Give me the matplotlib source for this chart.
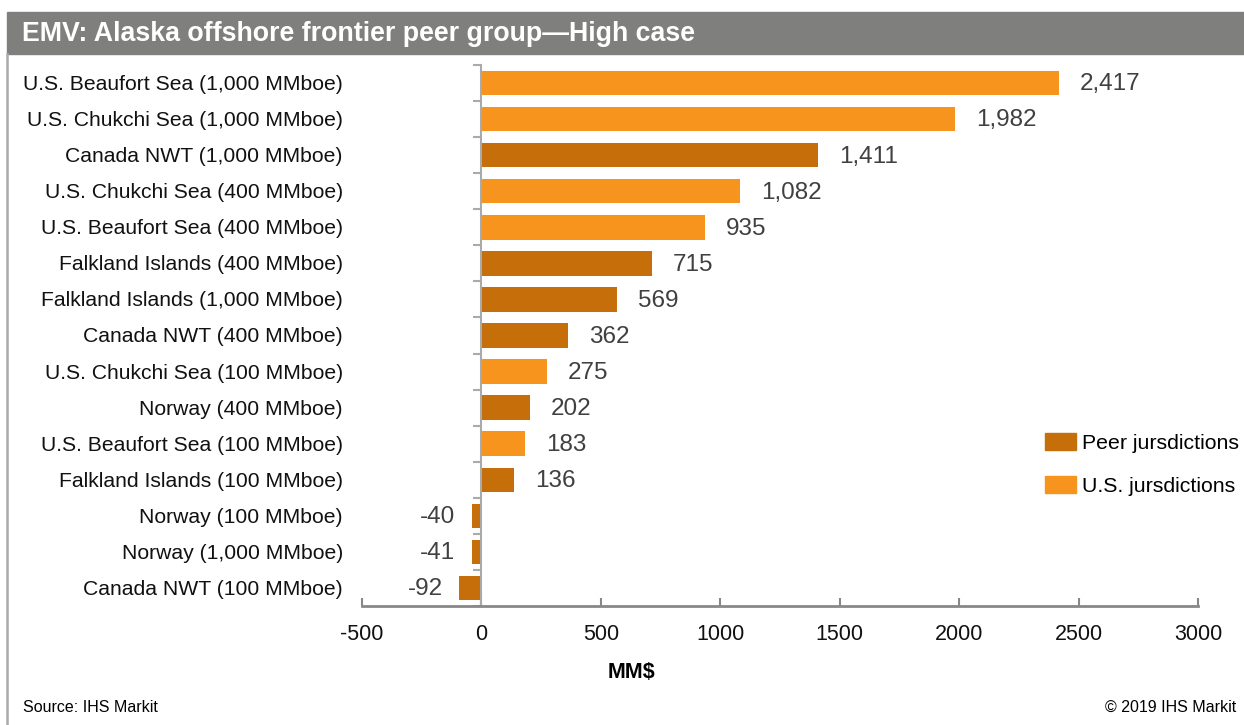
import numpy as np
import matplotlib.pyplot as plt
from matplotlib.patches import Rectangle, Patch
from matplotlib.lines import Line2D

plt.rcParams['font.family'] = ['Liberation Sans', 'DejaVu Sans']

# Data, top to bottom as in the chart
categories = [
    "U.S. Beaufort Sea (1,000 MMboe)",
    "U.S. Chukchi Sea (1,000 MMboe)",
    "Canada NWT (1,000 MMboe)",
    "U.S. Chukchi Sea (400 MMboe)",
    "U.S. Beaufort Sea (400 MMboe)",
    "Falkland Islands (400 MMboe)",
    "Falkland Islands (1,000 MMboe)",
    "Canada NWT (400 MMboe)",
    "U.S. Chukchi Sea (100 MMboe)",
    "Norway (400 MMboe)",
    "U.S. Beaufort Sea (100 MMboe)",
    "Falkland Islands (100 MMboe)",
    "Norway (100 MMboe)",
    "Norway (1,000 MMboe)",
    "Canada NWT (100 MMboe)",
]
values = [2417, 1982, 1411, 1082, 935, 715, 569, 362, 275, 202, 183, 136, -40, -41, -92]
is_us = [True, True, False, True, True, False, False, False, True, False, True, False, False, False, False]

xticks = [-500, 0, 500, 1000, 1500, 2000, 2500, 3000]

US_COL = '#F7941D'
PEER_COL = '#C66E0A'
GRAY = '#7F807E'

fig = plt.figure(figsize=(12.44, 7.25), dpi=100)
W, H = 1244, 725

# Title bar and left frame line
fig.patches.append(Rectangle((7 / W, 1 - 54 / H), 1 - 7 / W, 42 / H,
                             transform=fig.transFigure, color=GRAY, zorder=0))
fig.lines.append(Line2D([7 / W, 7 / W], [0, 1 - 54 / H], transform=fig.transFigure,
                        color='#AAAAAA', lw=1.8))
fig.text(22 / W, 1 - 34 / H, "EMV: Alaska offshore frontier peer group\u2014High case",
         color='white', fontsize=19.3, fontweight='bold', va='center', ha='left')

ax = fig.add_axes([362 / W, 1 - 606 / H, 836 / W, 541 / H])
y = np.arange(len(categories))
colors = [US_COL if u else PEER_COL for u in is_us]
ax.barh(y, values, height=0.68, color=colors, zorder=2)

ax.set_xlim(-500, 3000)
ax.set_ylim(len(categories) - 0.5, -0.5)
ax.set_xticks(xticks)
ax.set_xticklabels([str(t) for t in xticks], fontsize=15.5, color='#111111')
ax.tick_params(axis='x', direction='in', length=6, width=1.5, color='#888888', pad=13)

# y axis sits at zero, ticks between categories
ax.spines['left'].set_position(('data', 0))
ax.set_yticks(np.arange(len(categories) + 1) - 0.5)
ax.set_yticklabels([])
ax.tick_params(axis='y', direction='out', length=6, width=1.5, color='#AAAAAA')
for s in ['top', 'right']:
    ax.spines[s].set_visible(False)
ax.spines['left'].set_color('#AAAAAA')
ax.spines['left'].set_linewidth(1.5)
ax.spines['bottom'].set_color('#888888')
ax.spines['bottom'].set_linewidth(2)

for yi, cat in zip(y, categories):
    ax.text(-0.023, yi + 0.04, cat, transform=ax.get_yaxis_transform(), ha='right', va='center',
            fontsize=15.2, color='#111111')

for yi, v in zip(y, values):
    if v >= 0:
        ax.annotate(f"{v:,}", (v, yi), xytext=(15, -1), textcoords='offset points',
                    ha='left', va='center', fontsize=17.5, color='#404040')
    else:
        ax.annotate(f"{v:,}", (v, yi), xytext=(-12, -1), textcoords='offset points',
                    ha='right', va='center', fontsize=17.5, color='#404040')

fig.text(631 / W, 1 - 672 / H, "MM$", fontsize=15.5, fontweight='bold', ha='center', va='center')

handles = [Patch(color=PEER_COL, label='Peer jursdictions'),
           Patch(color=US_COL, label='U.S. jursdictions')]
fig.legend(handles=handles, loc='upper left', bbox_to_anchor=(1026 / W, 1 - 414 / H),
           frameon=False, fontsize=15.3, handlelength=1.45, handleheight=0.85,
           handletextpad=0.3, labelspacing=1.1)

fig.text(23 / W, 1 - 707 / H, "Source: IHS Markit", fontsize=11.5, va='center', ha='left')
fig.text(1236 / W, 1 - 707 / H, "\u00a9 2019 IHS Markit", fontsize=11.5, va='center', ha='right')

fig.savefig('out.png', dpi=100)
